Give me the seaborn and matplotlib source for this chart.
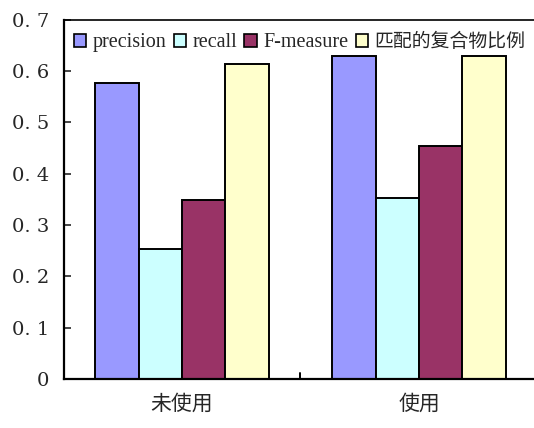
import matplotlib
matplotlib.use("Agg")
import matplotlib.pyplot as plt
import seaborn as sns
import pandas as pd

groups = ["未使用", "使用"]
metrics = ["precision", "recall", "F-measure", "匹配的复合物比例"]
precision = [0.576, 0.629]
recall = [0.254, 0.353]
f_measure = [0.349, 0.453]
match_ratio = [0.614, 0.629]
y_ticks = [0, 0.1, 0.2, 0.3, 0.4, 0.5, 0.6, 0.7]
y_tick_labels = ["0", "0. 1", "0. 2", "0. 3", "0. 4", "0. 5", "0. 6", "0. 7"]
colors = ["#9999FF", "#CCFFFF", "#993366", "#FFFFCC"]

rows = []
for m, vals in zip(metrics, [precision, recall, f_measure, match_ratio]):
    for g, v in zip(groups, vals):
        rows.append({"group": g, "metric": m, "value": v})
df = pd.DataFrame(rows)

sns.set_style("white")
plt.rcParams["font.family"] = ["Liberation Serif", "Noto Sans CJK SC"]

fig = plt.figure(figsize=(5.34, 4.28), dpi=100)
ax = fig.add_axes([63.5 / 534, 1 - 379 / 428, (537.5 - 63.5) / 534, (379 - 19.5) / 428])

sns.barplot(data=df, x="group", y="value", hue="metric", hue_order=metrics,
            order=groups, palette=colors, width=0.73, ax=ax,
            edgecolor="black", linewidth=1.4, saturation=1, legend=True)

ax.set_xlim(-0.5, 1.5)
ax.set_ylim(0, 0.7)
ax.set_yticks(y_ticks)
ax.set_yticklabels(y_tick_labels, fontsize=14, family=["DejaVu Serif"])
ax.set_xticks([0, 1])
ax.set_xticklabels(groups, fontsize=15, family=["Noto Sans CJK SC"])
ax.set_xlabel("")
ax.set_ylabel("")

for s in ax.spines.values():
    s.set_color("black")
    s.set_linewidth(1.6)
ax.spines["top"].set_linewidth(1.2)

# ticks on left axis pointing inward, separator tick between groups
ax.tick_params(axis="y", direction="in", length=5, width=1.2, left=True, pad=10)
ax.tick_params(axis="x", length=0, pad=10)
ax.plot([0.5, 0.5], [0, 0.012], color="black", lw=1.4, clip_on=False)

leg = ax.legend(loc="upper left", bbox_to_anchor=(0.0, 0.99), ncol=4, frameon=False,
                handlelength=0.62, handleheight=0.62,
                handletextpad=0.32, columnspacing=0.36, borderaxespad=0.1,
                borderpad=0.4,
                prop={"family": ["Liberation Serif", "Noto Sans CJK SC"], "size": 14.5})
leg.get_texts()[3].set_fontsize(13.6)
for h in leg.legend_handles:
    h.set_edgecolor("black")
    h.set_linewidth(1.2)

fig.savefig("out.png", dpi=100)
